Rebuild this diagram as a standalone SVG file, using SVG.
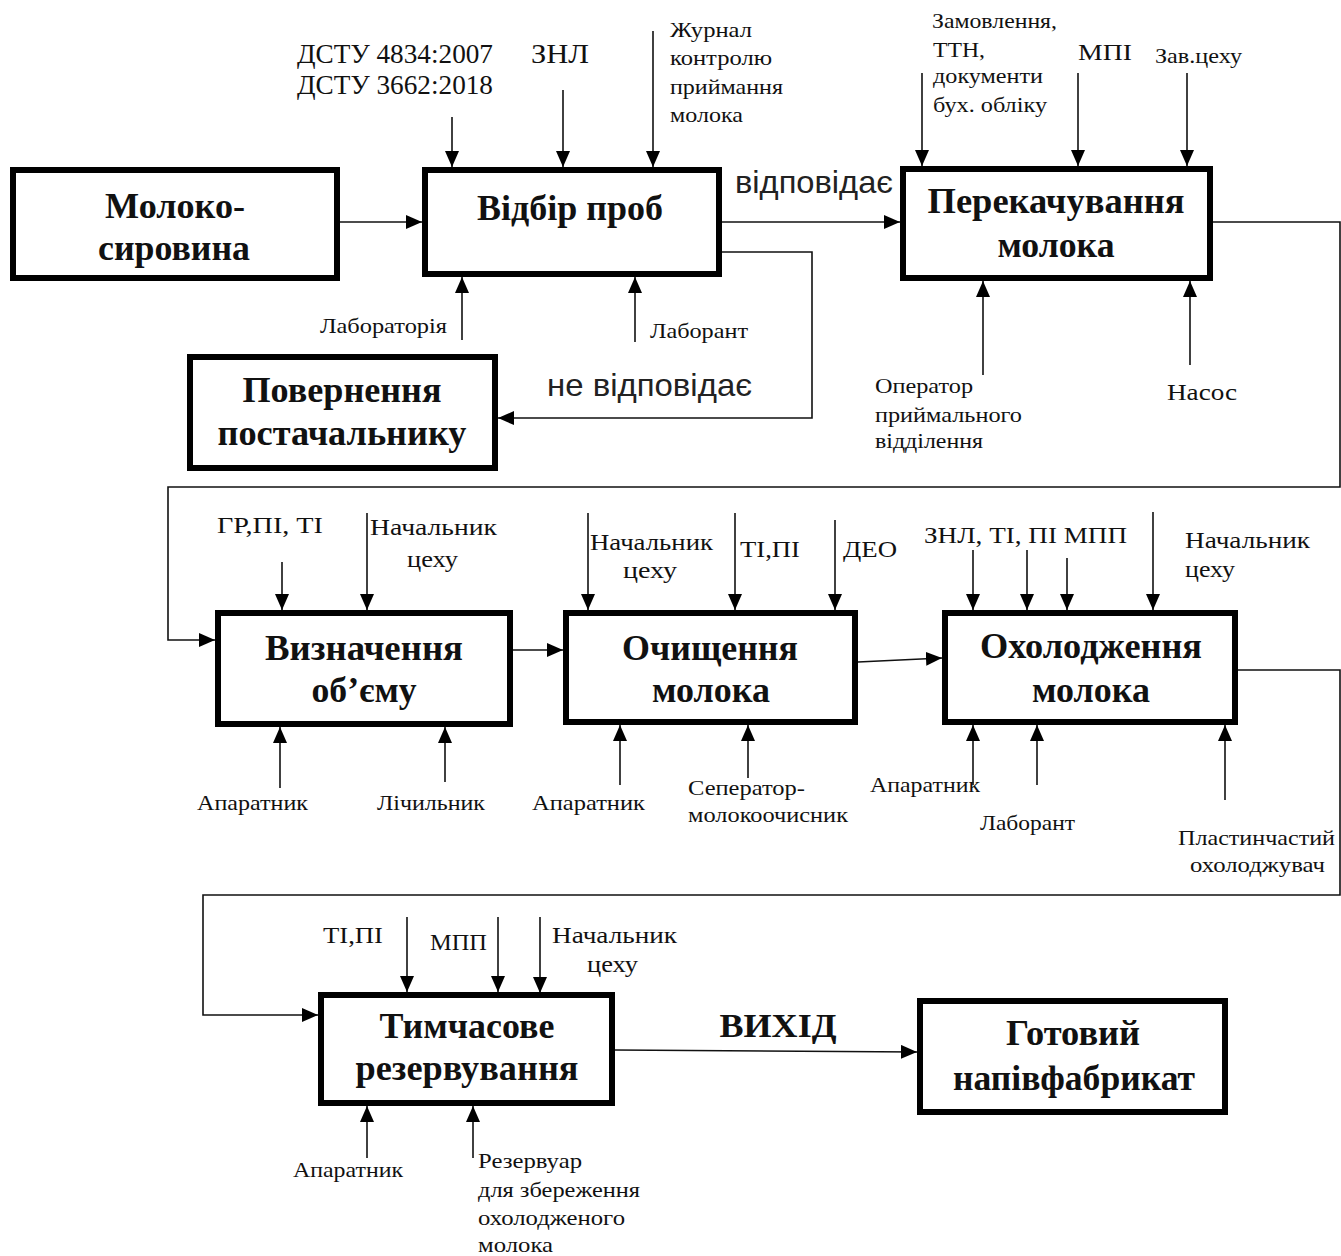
<svg xmlns="http://www.w3.org/2000/svg" width="1341" height="1256" viewBox="0 0 1341 1256">
  <style>
    .box { fill: #fff; stroke: #000; stroke-width: 6; }
    .title { font-family: "Liberation Serif", "Times New Roman", serif; font-weight: bold; font-size: 35px; fill: #111; text-anchor: middle; }
    .lbl { font-family: "Liberation Serif", "Times New Roman", serif; font-size: 21px; fill: #111; }
    .lbl-m { font-family: "Liberation Serif", "Times New Roman", serif; font-size: 23px; fill: #111; }
    .lbl-l { font-family: "Liberation Serif", "Times New Roman", serif; font-size: 27px; fill: #111; }
    .sans { font-family: "Liberation Sans", Arial, sans-serif; font-size: 32px; fill: #222; }
    .conn { fill: none; stroke: #111; stroke-width: 1.6; }
  </style>
  <defs>
    <marker id="arrow" markerUnits="userSpaceOnUse" markerWidth="16" markerHeight="14" refX="16" refY="7" orient="auto">
      <path d="M0,0 L16,7 L0,14 z" fill="#000"/>
    </marker>
  </defs>

  <rect width="1341" height="1256" fill="#fff"/>

  <!-- flow and ICOM connectors -->
  <g id="connectors" class="conn" marker-end="url(#arrow)">
    <path d="M340,222 H422"/>
    <path d="M722,222 H900"/>
    <path d="M722,252 H812 V418 H498"/>
    <path d="M1213,222 H1340 V487 H168 V640 H215"/>
    <path d="M513,650 H563"/>
    <path d="M858,662 L942,658"/>
    <path d="M1238,670 H1340 V895 H203 V1015 H318"/>
    <path d="M615,1050 L917,1052"/>

    <!-- controls: Відбір проб -->
    <path d="M452,117 V167"/>
    <path d="M563,90 V167"/>
    <path d="M653,31 V167"/>
    <!-- mechanisms: Відбір проб -->
    <path d="M462,340 V277"/>
    <path d="M635,342 V277"/>

    <!-- Перекачування молока -->
    <path d="M922,73 V166"/>
    <path d="M1078,73 V166"/>
    <path d="M1187,73 V166"/>
    <path d="M983,375 V281"/>
    <path d="M1190,365 V281"/>

    <!-- Визначення об'єму -->
    <path d="M282,562 V610"/>
    <path d="M367,513 V610"/>
    <path d="M280,788 V727"/>
    <path d="M445,782 V727"/>

    <!-- Очищення молока -->
    <path d="M588,513 V610"/>
    <path d="M735,513 V610"/>
    <path d="M835,520 V610"/>
    <path d="M620,785 V725"/>
    <path d="M748,778 V725"/>

    <!-- Охолодження молока -->
    <path d="M973,550 V610"/>
    <path d="M1027,550 V610"/>
    <path d="M1067,558 V610"/>
    <path d="M1153,512 V610"/>
    <path d="M973,785 V725"/>
    <path d="M1037,785 V725"/>
    <path d="M1225,800 V725"/>

    <!-- Тимчасове резервування -->
    <path d="M407,917 V992"/>
    <path d="M498,917 V992"/>
    <path d="M540,917 V993"/>
    <path d="M367,1158 V1106"/>
    <path d="M473,1158 V1106"/>
  </g>

  <!-- process blocks -->
  <g id="n-syrovyna">
    <rect class="box" x="13" y="170" width="324" height="108"/>
    <text class="title" x="175" y="218" textLength="140" lengthAdjust="spacingAndGlyphs">Молоко-</text>
    <text class="title" x="174" y="260" textLength="152" lengthAdjust="spacingAndGlyphs">сировина</text>
  </g>
  <g id="n-vidbir">
    <rect class="box" x="425" y="170" width="294" height="104"/>
    <text class="title" x="570" y="220" textLength="186" lengthAdjust="spacingAndGlyphs">Відбір проб</text>
  </g>
  <g id="n-perekach">
    <rect class="box" x="903" y="169" width="307" height="109"/>
    <text class="title" x="1056" y="213" textLength="257" lengthAdjust="spacingAndGlyphs">Перекачування</text>
    <text class="title" x="1056" y="257" textLength="117" lengthAdjust="spacingAndGlyphs">молока</text>
  </g>
  <g id="n-povernennia">
    <rect class="box" x="190" y="357" width="305" height="111"/>
    <text class="title" x="342" y="402" textLength="199" lengthAdjust="spacingAndGlyphs">Повернення</text>
    <text class="title" x="342" y="445" textLength="249" lengthAdjust="spacingAndGlyphs">постачальнику</text>
  </g>
  <g id="n-obiem">
    <rect class="box" x="218" y="613" width="292" height="111"/>
    <text class="title" x="364" y="660" textLength="198" lengthAdjust="spacingAndGlyphs">Визначення</text>
    <text class="title" x="364" y="702" textLength="105" lengthAdjust="spacingAndGlyphs">об’єму</text>
  </g>
  <g id="n-ochyshchennia">
    <rect class="box" x="566" y="613" width="289" height="109"/>
    <text class="title" x="710" y="660" textLength="176" lengthAdjust="spacingAndGlyphs">Очищення</text>
    <text class="title" x="711" y="702" textLength="118" lengthAdjust="spacingAndGlyphs">молока</text>
  </g>
  <g id="n-okholodzhennia">
    <rect class="box" x="945" y="613" width="290" height="109"/>
    <text class="title" x="1091" y="658" textLength="222" lengthAdjust="spacingAndGlyphs">Охолодження</text>
    <text class="title" x="1091" y="702" textLength="118" lengthAdjust="spacingAndGlyphs">молока</text>
  </g>
  <g id="n-rezervuvannia">
    <rect class="box" x="321" y="995" width="291" height="108"/>
    <text class="title" x="467" y="1038" textLength="175" lengthAdjust="spacingAndGlyphs">Тимчасове</text>
    <text class="title" x="467" y="1080" textLength="223" lengthAdjust="spacingAndGlyphs">резервування</text>
  </g>
  <g id="n-napivfabrykat">
    <rect class="box" x="920" y="1001" width="305" height="111"/>
    <text class="title" x="1073" y="1045" textLength="134" lengthAdjust="spacingAndGlyphs">Готовий</text>
    <text class="title" x="1074" y="1090" textLength="242" lengthAdjust="spacingAndGlyphs">напівфабрикат</text>
  </g>

  <!-- arrow labels -->
  <g id="labels">
    <text class="lbl-l" x="297" y="63" textLength="196" lengthAdjust="spacingAndGlyphs">ДСТУ 4834:2007</text>
    <text class="lbl-l" x="297" y="94" textLength="196" lengthAdjust="spacingAndGlyphs">ДСТУ 3662:2018</text>
    <text class="lbl-l" x="531" y="63" textLength="58" lengthAdjust="spacingAndGlyphs">ЗНЛ</text>
    <text class="lbl" x="670" y="37" textLength="82" lengthAdjust="spacingAndGlyphs">Журнал</text>
    <text class="lbl" x="670" y="65" textLength="102" lengthAdjust="spacingAndGlyphs">контролю</text>
    <text class="lbl" x="670" y="94" textLength="113" lengthAdjust="spacingAndGlyphs">приймання</text>
    <text class="lbl" x="670" y="122" textLength="73" lengthAdjust="spacingAndGlyphs">молока</text>
    <text class="lbl" x="320" y="333" textLength="127" lengthAdjust="spacingAndGlyphs">Лабораторія</text>
    <text class="lbl" x="650" y="338" textLength="98" lengthAdjust="spacingAndGlyphs">Лаборант</text>
    <text class="sans" x="735" y="193" textLength="158" lengthAdjust="spacingAndGlyphs">відповідає</text>
    <text class="sans" x="547" y="396" textLength="205" lengthAdjust="spacingAndGlyphs">не відповідає</text>

    <text class="lbl" x="932" y="28" textLength="125" lengthAdjust="spacingAndGlyphs">Замовлення,</text>
    <text class="lbl" x="933" y="57" textLength="52" lengthAdjust="spacingAndGlyphs">ТТН,</text>
    <text class="lbl" x="933" y="83" textLength="110" lengthAdjust="spacingAndGlyphs">документи</text>
    <text class="lbl" x="933" y="112" textLength="114" lengthAdjust="spacingAndGlyphs">бух. обліку</text>
    <text class="lbl-m" x="1078" y="60" textLength="54" lengthAdjust="spacingAndGlyphs">МПІ</text>
    <text class="lbl" x="1155" y="63" textLength="87" lengthAdjust="spacingAndGlyphs">Зав.цеху</text>
    <text class="lbl" x="875" y="393" textLength="98" lengthAdjust="spacingAndGlyphs">Оператор</text>
    <text class="lbl" x="875" y="422" textLength="147" lengthAdjust="spacingAndGlyphs">приймального</text>
    <text class="lbl" x="875" y="448" textLength="108" lengthAdjust="spacingAndGlyphs">відділення</text>
    <text class="lbl-m" x="1167" y="400" textLength="70" lengthAdjust="spacingAndGlyphs">Насос</text>

    <text class="lbl-m" x="217" y="533" textLength="106" lengthAdjust="spacingAndGlyphs">ГР,ПІ, ТІ</text>
    <text class="lbl-m" x="370" y="535" textLength="127" lengthAdjust="spacingAndGlyphs">Начальник</text>
    <text class="lbl-m" x="407" y="567" textLength="51" lengthAdjust="spacingAndGlyphs">цеху</text>
    <text class="lbl" x="197" y="810" textLength="111" lengthAdjust="spacingAndGlyphs">Апаратник</text>
    <text class="lbl" x="377" y="810" textLength="108" lengthAdjust="spacingAndGlyphs">Лічильник</text>

    <text class="lbl-m" x="590" y="550" textLength="123" lengthAdjust="spacingAndGlyphs">Начальник</text>
    <text class="lbl-m" x="623" y="578" textLength="54" lengthAdjust="spacingAndGlyphs">цеху</text>
    <text class="lbl-m" x="740" y="557" textLength="60" lengthAdjust="spacingAndGlyphs">ТІ,ПІ</text>
    <text class="lbl-m" x="843" y="557" textLength="54" lengthAdjust="spacingAndGlyphs">ДЕО</text>
    <text class="lbl" x="532" y="810" textLength="113" lengthAdjust="spacingAndGlyphs">Апаратник</text>
    <text class="lbl" x="688" y="795" textLength="117" lengthAdjust="spacingAndGlyphs">Сеператор-</text>
    <text class="lbl" x="688" y="822" textLength="160" lengthAdjust="spacingAndGlyphs">молокоочисник</text>

    <text class="lbl-m" x="924" y="543" textLength="203" lengthAdjust="spacingAndGlyphs">ЗНЛ, ТІ, ПІ МПП</text>
    <text class="lbl-m" x="1185" y="548" textLength="125" lengthAdjust="spacingAndGlyphs">Начальник</text>
    <text class="lbl-m" x="1185" y="577" textLength="50" lengthAdjust="spacingAndGlyphs">цеху</text>
    <text class="lbl" x="870" y="792" textLength="110" lengthAdjust="spacingAndGlyphs">Апаратник</text>
    <text class="lbl" x="980" y="830" textLength="95" lengthAdjust="spacingAndGlyphs">Лаборант</text>
    <text class="lbl" x="1178" y="845" textLength="157" lengthAdjust="spacingAndGlyphs">Пластинчастий</text>
    <text class="lbl" x="1190" y="872" textLength="135" lengthAdjust="spacingAndGlyphs">охолоджувач</text>

    <text class="lbl-m" x="323" y="943" textLength="60" lengthAdjust="spacingAndGlyphs">ТІ,ПІ</text>
    <text class="lbl-m" x="430" y="950" textLength="57" lengthAdjust="spacingAndGlyphs">МПП</text>
    <text class="lbl-m" x="552" y="943" textLength="125" lengthAdjust="spacingAndGlyphs">Начальник</text>
    <text class="lbl-m" x="587" y="972" textLength="51" lengthAdjust="spacingAndGlyphs">цеху</text>
    <text class="lbl" x="293" y="1177" textLength="110" lengthAdjust="spacingAndGlyphs">Апаратник</text>
    <text class="lbl" x="478" y="1168" textLength="104" lengthAdjust="spacingAndGlyphs">Резервуар</text>
    <text class="lbl" x="478" y="1197" textLength="162" lengthAdjust="spacingAndGlyphs">для збереження</text>
    <text class="lbl" x="478" y="1225" textLength="147" lengthAdjust="spacingAndGlyphs">охолодженого</text>
    <text class="lbl" x="478" y="1252" textLength="75" lengthAdjust="spacingAndGlyphs">молока</text>
    <text class="title" x="778" y="1037" style="font-size:33px" textLength="117" lengthAdjust="spacingAndGlyphs">ВИХІД</text>
  </g>
</svg>
